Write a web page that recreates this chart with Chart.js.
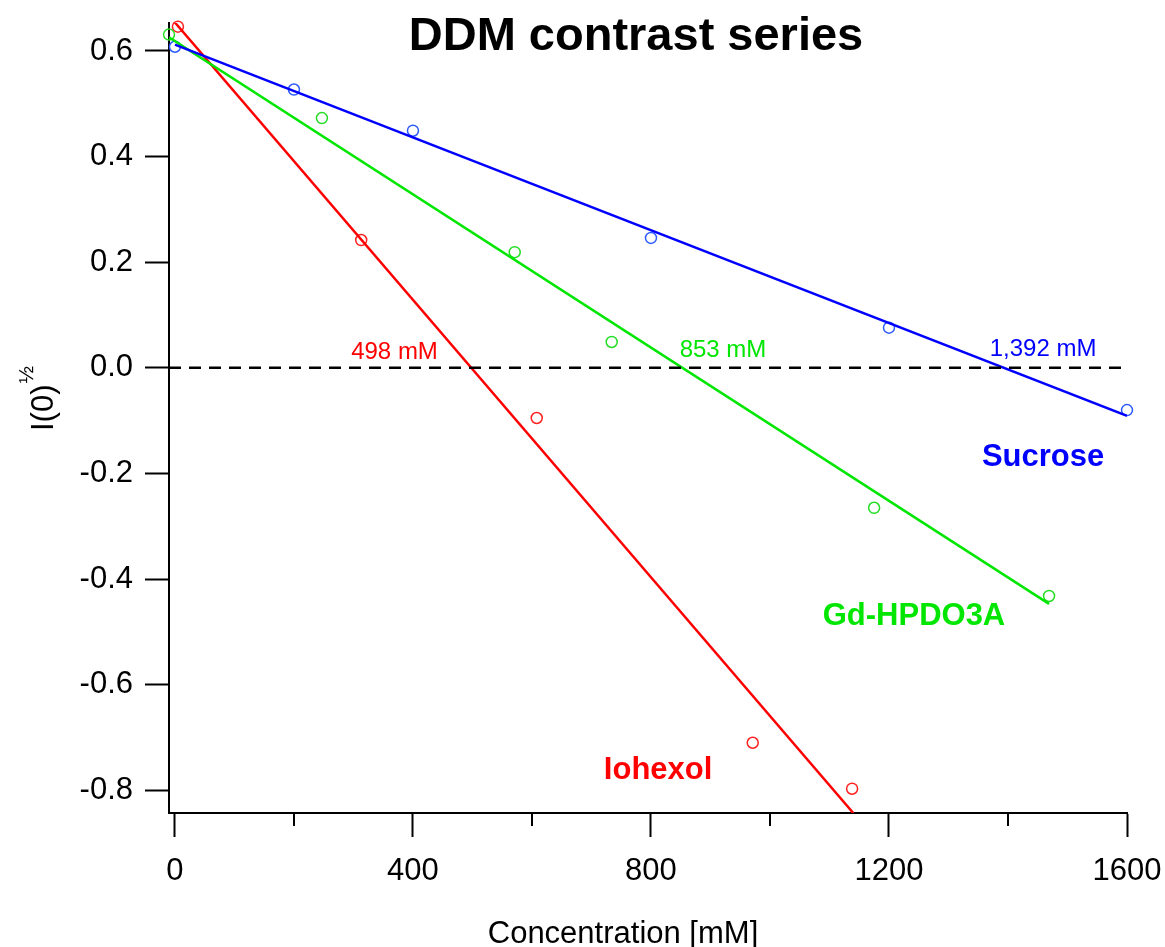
<!DOCTYPE html>
<html>
<head>
<meta charset="utf-8">
<title>DDM contrast series</title>
<script src="https://cdn.jsdelivr.net/npm/chart.js@4.4.1/dist/chart.umd.min.js"></script>
<style>
  html, body { margin: 0; padding: 0; background: #fff; }
  #chart { display: block; }
</style>
</head>
<body>
<canvas id="chart" width="1165" height="947"></canvas>
<script>
// axis ticks
const xTicks = [0, 400, 800, 1200, 1600];
const xMinorTicks = [200, 600, 1000, 1400];
const yTicks = [-0.8, -0.6, -0.4, -0.2, 0.0, 0.2, 0.4, 0.6];

// measured points (concentration mM, I(0)^1/2)
const sucroseConc = [0, 200, 400, 800, 1200, 1600];
const sucroseI0 = [0.608, 0.527, 0.449, 0.246, 0.076, -0.080];
const gdConc = [-10, 247, 571, 734, 1175, 1469];
const gdI0 = [0.631, 0.473, 0.219, 0.049, -0.265, -0.432];
const iohexolConc = [5, 313, 608, 971, 1138];
const iohexolI0 = [0.646, 0.242, -0.095, -0.710, -0.797];

// linear fits (end points)
const sucroseFitConc = [0, 1600];
const sucroseFitI0 = [0.612, -0.091];
const gdFitConc = [-10, 1469];
const gdFitI0 = [0.626, -0.447];
const iohexolFitConc = [0, 1140];
const iohexolFitI0 = [0.654, -0.843];

// zero crossing labels
const crossLabels = ['498 mM', '853 mM', '1,392 mM'];
const seriesNames = ['Iohexol', 'Gd-HPDO3A', 'Sucrose'];

const RED = '#ff0000';
const GREEN = '#00e600';
const BLUE = '#0000ff';
const FONT = '"Liberation Sans", Arial, sans-serif';

function pts(xs, ys) {
  return xs.map((x, i) => ({ x: x, y: ys[i] }));
}

function scatterSet(label, xs, ys, color) {
  return {
    type: 'scatter',
    label: label,
    data: pts(xs, ys),
    showLine: false,
    pointStyle: 'circle',
    pointRadius: 5.5,
    pointBorderWidth: 1.5,
    pointBackgroundColor: 'rgba(0,0,0,0)',
    pointBorderColor: color,
    clip: false
  };
}

function fitSet(label, xs, ys, color, dash) {
  return {
    type: 'line',
    label: label,
    data: pts(xs, ys),
    borderColor: color,
    borderWidth: 2.5,
    borderDash: dash || [],
    pointRadius: 0,
    fill: false,
    tension: 0
  };
}

// text labels, placed in data units
const textLabels = [
  { text: crossLabels[0], x: 369, y: 0.017, color: RED, bold: false, size: 24 },
  { text: crossLabels[1], x: 921, y: 0.021, color: GREEN, bold: false, size: 24 },
  { text: crossLabels[2], x: 1459, y: 0.023, color: BLUE, bold: false, size: 24 },
  { text: seriesNames[2], x: 1459, y: -0.186, color: BLUE, bold: true, size: 31 },
  { text: seriesNames[1], x: 1242, y: -0.487, color: GREEN, bold: true, size: 31 },
  { text: seriesNames[0], x: 812, y: -0.778, color: RED, bold: true, size: 31 }
];

const decorations = {
  id: 'decorations',
  afterDraw(chart) {
    const ctx = chart.ctx;
    const xs = chart.scales.x;
    const ys = chart.scales.y;
    const area = chart.chartArea;
    ctx.save();

    // minor ticks
    ctx.strokeStyle = '#000';
    ctx.lineWidth = 2;
    xMinorTicks.forEach(v => {
      const px = Math.round(xs.getPixelForValue(v));
      ctx.beginPath();
      ctx.moveTo(px, area.bottom);
      ctx.lineTo(px, area.bottom + 13);
      ctx.stroke();
    });

    // labels
    ctx.textAlign = 'center';
    ctx.textBaseline = 'alphabetic';
    textLabels.forEach(l => {
      ctx.font = (l.bold ? 'bold ' : '') + l.size + 'px ' + FONT;
      ctx.fillStyle = l.color;
      ctx.fillText(l.text, xs.getPixelForValue(l.x), ys.getPixelForValue(l.y));
    });

    // title
    ctx.fillStyle = '#000';
    ctx.font = 'bold 47px ' + FONT;
    ctx.fillText('DDM contrast series', 636, 50);

    // x axis title
    ctx.font = '31px ' + FONT;
    ctx.fillText('Concentration [mM]', 623, 943);

    // y axis title with superscript 1/2
    ctx.translate(53, 431);
    ctx.rotate(-Math.PI / 2);
    ctx.textAlign = 'left';
    ctx.font = '31px ' + FONT;
    ctx.fillText('I(0)', 0, 0);
    const w = ctx.measureText('I(0)').width;
    ctx.font = '21px ' + FONT;
    ctx.fillText('\u00BD', w + 1, -20);

    ctx.restore();
  }
};

const ctx = document.getElementById('chart');

new Chart(ctx, {
  data: {
    datasets: [
      fitSet('zero', [-10, 1600], [0, 0], '#000', [12, 8]),
      fitSet('Sucrose fit', sucroseFitConc, sucroseFitI0, BLUE),
      fitSet('Gd-HPDO3A fit', gdFitConc, gdFitI0, GREEN),
      fitSet('Iohexol fit', iohexolFitConc, iohexolFitI0, RED),
      scatterSet('Sucrose', sucroseConc, sucroseI0, '#2d5bff'),
      scatterSet('Gd-HPDO3A', gdConc, gdI0, '#22dd22'),
      scatterSet('Iohexol', iohexolConc, iohexolI0, '#ff2020')
    ]
  },
  options: {
    responsive: false,
    animation: false,
    layout: { padding: { top: 23, right: 38, left: 0, bottom: 0 } },
    plugins: {
      legend: { display: false },
      title: { display: false },
      tooltip: { enabled: false }
    },
    scales: {
      x: {
        type: 'linear',
        min: -10,
        max: 1600,
        afterBuildTicks: s => { s.ticks = xTicks.map(v => ({ value: v })); },
        afterFit: s => {
          s.height = 134;
          s.paddingLeft = 0;
          s.paddingRight = 0;
        },
        border: { color: '#000', width: 2 },
        grid: {
          drawOnChartArea: false,
          drawTicks: true,
          tickLength: 24,
          tickWidth: 2,
          tickColor: '#000'
        },
        ticks: {
          color: '#000',
          padding: 16,
          maxRotation: 0,
          font: { family: FONT, size: 31 },
          callback: v => String(v)
        }
      },
      y: {
        type: 'linear',
        min: -0.843,
        max: 0.653,
        afterBuildTicks: s => { s.ticks = yTicks.map(v => ({ value: v })); },
        afterFit: s => {
          s.width = 169;
          s.paddingTop = 0;
          s.paddingBottom = 0;
        },
        border: { color: '#000', width: 2 },
        grid: {
          drawOnChartArea: false,
          drawTicks: true,
          tickLength: 24,
          tickWidth: 2,
          tickColor: '#000'
        },
        ticks: {
          color: '#000',
          padding: 12,
          font: { family: FONT, size: 31 },
          callback: v => v.toFixed(1)
        }
      }
    }
  },
  plugins: [decorations]
});
</script>
</body>
</html>
